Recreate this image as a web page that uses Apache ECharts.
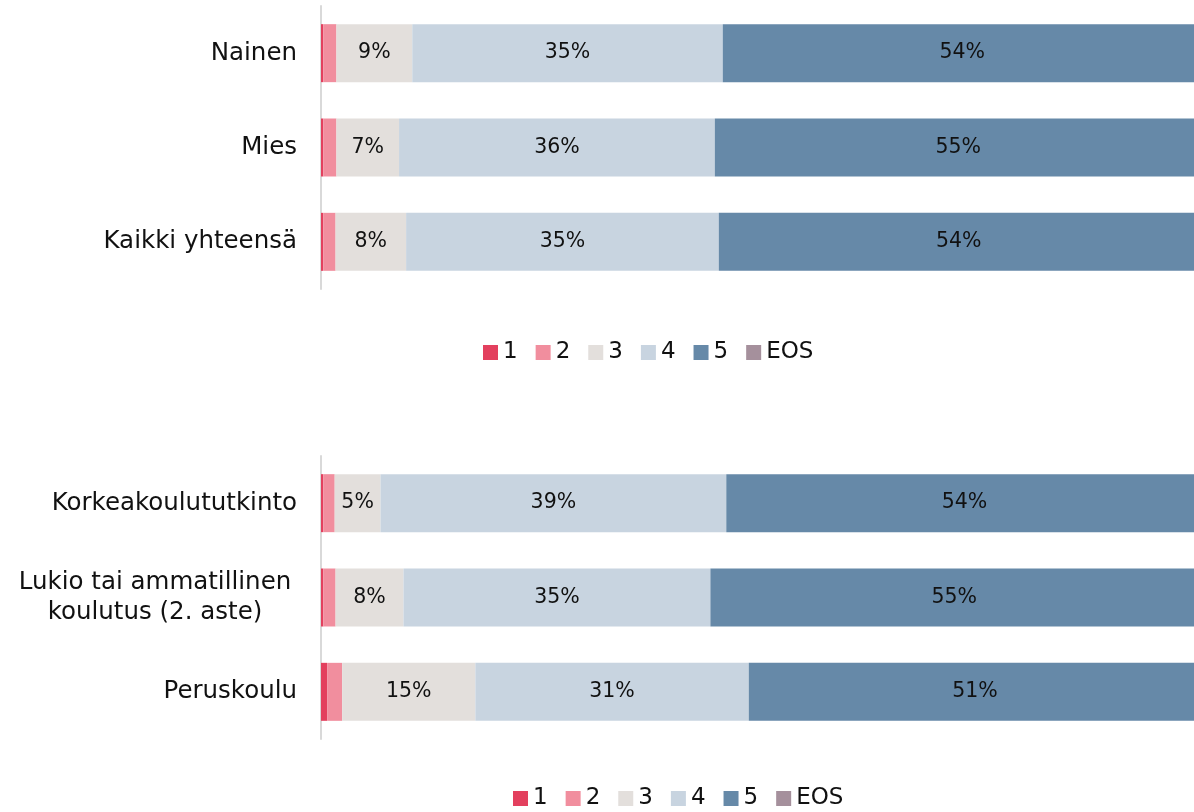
<!DOCTYPE html>
<html>
<head>
<meta charset="utf-8">
<script src="https://cdn.jsdelivr.net/npm/echarts@6/dist/echarts.min.js"></script>
<style>
html,body{margin:0;padding:0;background:#fff;}
#c{width:1194px;height:812px;}
</style>
</head>
<body>
<div id="c"></div>
<script>
// Data
var levels = ['1', '2', '3', '4', '5', 'EOS'];
var colors = ['#E3405E', '#F18E9E', '#E3DFDC', '#C8D4E0', '#6689A8', '#A5909C'];

var catTop = ['Nainen', 'Mies', 'Kaikki yhteensä'];
var top1 = [0.25, 0.25, 0.25];
var top2 = [1.5, 1.5, 1.4];
var top3 = [8.6, 7.1, 8.0];
var top4 = [35.2, 35.8, 35.45];
var top5 = [54.3, 55.2, 54.4];
var topEOS = [0.15, 0.15, 0.5];

var catBottom = ['Korkeakoulututkinto', 'Lukio tai ammatillinen\nkoulutus (2. aste)', 'Peruskoulu'];
var bot1 = [0.25, 0.25, 0.7];
var bot2 = [1.3, 1.4, 1.7];
var bot3 = [5.2, 7.7, 15.1];
var bot4 = [39.2, 34.8, 31.0];
var bot5 = [54.0, 55.3, 51.3];
var botEOS = [0.05, 0.55, 0.2];

var topSets = [top1, top2, top3, top4, top5, topEOS];
var botSets = [bot1, bot2, bot3, bot4, bot5, botEOS];

var FONT = '"DejaVu Sans", sans-serif';

function makeSeries(sets, idx) {
  return sets.map(function (vals, i) {
    var showLabel = (i >= 2 && i <= 4);
    return {
      name: levels[i],
      type: 'bar',
      stack: 'g' + idx,
      xAxisIndex: idx,
      yAxisIndex: idx,
      barWidth: 58,
      data: vals,
      itemStyle: { color: colors[i] },
      emphasis: { disabled: true },
      label: {
        show: showLabel,
        position: 'inside',
        color: '#111',
        fontFamily: FONT,
        fontSize: 20.5,
        formatter: function (p) { return Math.round(p.value) + '%'; }
      }
    };
  });
}

function yAxisFor(cats, idx) {
  return {
    type: 'category',
    gridIndex: idx,
    data: cats,
    inverse: true,
    axisLine: { show: true, lineStyle: { color: '#D9D9D9', width: 2 } },
    axisTick: { show: false },
    splitLine: { show: false },
    axisLabel: {
      margin: 24,
      color: '#111',
      fontFamily: FONT,
      fontSize: 24.5,
      lineHeight: 30,
      formatter: function (v) {
        if (v.indexOf('\n') >= 0) {
          return v.split('\n').map(function (s) { return '{c|' + s + '}'; }).join('\n');
        }
        return v;
      },
      rich: {
        c: { width: 284, align: 'center', fontFamily: FONT, fontSize: 24.5, color: '#111', lineHeight: 30 }
      }
    }
  };
}

function xAxisFor(idx) {
  return {
    type: 'value',
    gridIndex: idx,
    min: 0,
    max: 100,
    show: false
  };
}

var legendText = { fontFamily: FONT, fontSize: 23, color: '#111' };

var option = {
  animation: false,
  backgroundColor: '#fff',
  grid: [
    { left: 321, width: 882, top: 6, height: 283, outerBoundsMode: 'none', containLabel: false },
    { left: 321, width: 882, top: 456, height: 283, outerBoundsMode: 'none', containLabel: false }
  ],
  legend: [
    { data: levels, left: 478, top: 336, icon: 'rect', itemWidth: 15, itemHeight: 15, itemGap: 18, textStyle: legendText, selectedMode: false },
    { data: levels, left: 508, top: 782, icon: 'rect', itemWidth: 15, itemHeight: 15, itemGap: 18, textStyle: legendText, selectedMode: false }
  ],
  xAxis: [xAxisFor(0), xAxisFor(1)],
  yAxis: [yAxisFor(catTop, 0), yAxisFor(catBottom, 1)],
  series: makeSeries(topSets, 0).concat(makeSeries(botSets, 1))
};

var chart = echarts.init(document.getElementById('c'), null, { renderer: 'canvas' });
chart.setOption(option);
</script>
</body>
</html>
